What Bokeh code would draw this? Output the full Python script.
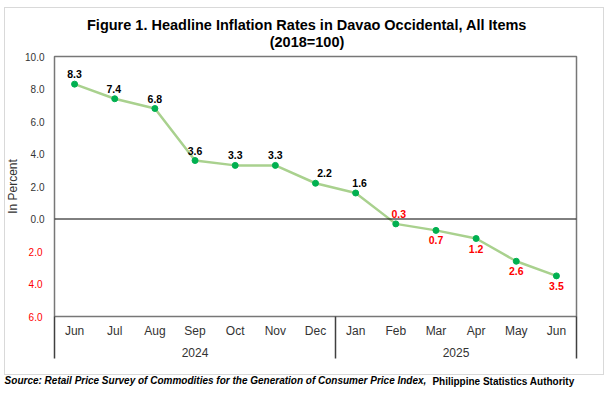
from bokeh.plotting import figure
from bokeh.models import (Range1d, FixedTicker, LinearAxis, Span,
                          ColumnDataSource, CustomJSTickFormatter, InlineStyleSheet)
from bokeh.core.properties import value
from bokeh.embed import file_html
from bokeh.resources import INLINE

# ---- data ----
months = ["Jun", "Jul", "Aug", "Sep", "Oct", "Nov", "Dec",
          "Jan", "Feb", "Mar", "Apr", "May", "Jun"]
years = ["2024", "2025"]
year_counts = [7, 6]
inflation = [8.3, 7.4, 6.8, 3.6, 3.3, 3.3, 2.2, 1.6, -0.3, -0.7, -1.2, -2.6, -3.5]
y_ticks = [-6, -4, -2, 0, 2, 4, 6, 8, 10]
title_main = "Figure 1. Headline Inflation Rates in Davao Occidental, All Items"
title_sub = "(2018=100)"
source_italic = "Source: Retail Price Survey of Commodities for the Generation of Consumer Price Index,"
source_plain = "Philippine Statistics Authority"

# ---- style ----
FONT = "Liberation Sans"
label_pos = ["above"] * 9 + ["below"] * 4
label_dx = [0, -1, 0, 0, 0, 0, 9, 4, 3, 0, 0, 0, 0]
LINE_C = "#a9d18e"
MARK_C = "#00b050"
TXT_C = "#333333"

W, H = 608, 392
FL, FR, FT, FB = 54, 576, 56, 316
Y0, Y1 = -6, 10
N = len(months)


def px_to_x(px):
    return (px - FL) / ((FR - FL) / N)


p = figure(width=W, height=H, output_backend="svg", toolbar_location=None,
           x_range=Range1d(0, N), y_range=Range1d(Y0, Y1),
           min_border_left=FL, min_border_right=W - FR,
           min_border_top=FT, min_border_bottom=H - FB,
           x_axis_type=None, y_axis_type=None)
p.xgrid.visible = False
p.ygrid.visible = False
p.title.visible = False
p.outline_line_color = "#777777"
p.outline_line_width = 1.5
p.background_fill_color = "white"
p.border_fill_color = "white"
p.stylesheets = [InlineStyleSheet(css=
    ":host::after{content:'';position:absolute;left:4px;top:7px;width:598px;height:366px;"
    "border:1px solid #d9d9d9;pointer-events:none;z-index:5;}")]


def plain_axis(ax):
    ax.axis_line_color = None
    ax.major_tick_out = 0
    ax.major_tick_in = 0
    ax.minor_tick_out = 0
    ax.minor_tick_in = 0
    ax.major_label_text_font = FONT
    return ax


# title lines (sub line next to the frame, main line above it)
for txt, so in [(title_sub, 7), (title_main, -2)]:
    cx = px_to_x(306.5)
    ta = plain_axis(LinearAxis(ticker=FixedTicker(ticks=[cx]),
                    major_label_overrides={cx: txt}))
    ta.major_label_standoff = so
    ta.major_label_text_font_size = "14.5px"
    ta.major_label_text_font_style = "bold"
    ta.major_label_text_color = "black"
    p.add_layout(ta, "above")

# y axis: negative labels (red, shown without sign) -- closest to frame
yneg = plain_axis(LinearAxis(ticker=FixedTicker(ticks=[t for t in y_ticks if t < 0]),
                  formatter=CustomJSTickFormatter(code="return Math.abs(tick).toFixed(1)")))
yneg.major_label_standoff = 12
yneg.major_label_text_font_size = "10px"
yneg.major_label_text_color = "#ff0000"
p.add_layout(yneg, "left")

# y axis: zero and positive labels (black), pulled back to the same column
yax = plain_axis(LinearAxis(ticker=FixedTicker(ticks=y_ticks),
                 formatter=CustomJSTickFormatter(code="return tick >= 0 ? tick.toFixed(1) : ''")))
yax.major_label_standoff = -19
yax.major_label_text_font_size = "10px"
yax.major_label_text_color = TXT_C
yax.axis_label = "In Percent"
yax.axis_label_text_font = FONT
yax.axis_label_text_font_size = "12px"
yax.axis_label_text_font_style = "normal"
yax.axis_label_text_color = TXT_C
yax.axis_label_standoff = 2
p.add_layout(yax, "left")

# month axis, with group separators drawn as long minor ticks
bounds = [0]
for c in year_counts:
    bounds.append(bounds[-1] + c)
centers = [i + 0.5 for i in range(N)]
xax = plain_axis(LinearAxis(ticker=FixedTicker(ticks=centers, minor_ticks=bounds),
                 major_label_overrides={c: m for c, m in zip(centers, months)}))
xax.minor_tick_out = 42
xax.minor_tick_line_color = "#404040"
xax.minor_tick_line_width = 1.5
xax.major_label_standoff = -35
xax.major_label_text_font_size = "12px"
xax.major_label_text_color = TXT_C
p.add_layout(xax, "below")

# year axis
ycent = [(bounds[i] + bounds[i + 1]) / 2 for i in range(len(years))]
yrax = plain_axis(LinearAxis(ticker=FixedTicker(ticks=ycent),
                  major_label_overrides={c: y for c, y in zip(ycent, years)}))
yrax.major_label_standoff = 7
yrax.major_label_text_font_size = "12px"
yrax.major_label_text_color = TXT_C
p.add_layout(yrax, "below")

# source note (two styles on one line)
for txt, style, cx, so in [(source_italic, "bold italic", px_to_x(215), 15),
                           (source_plain, "bold", px_to_x(503), -13)]:
    sa = plain_axis(LinearAxis(ticker=FixedTicker(ticks=[cx]),
                    major_label_overrides={cx: txt}))
    sa.major_label_standoff = so
    sa.major_label_text_font_size = "10px"
    sa.major_label_text_font_style = style
    sa.major_label_text_color = "black"
    p.add_layout(sa, "below")

# zero line
p.add_layout(Span(location=0, dimension="width", line_color="black", line_width=1))

# series
xs = centers
p.line(xs, inflation, line_color=LINE_C, line_width=2.5)
p.scatter(xs, inflation, size=6, fill_color=MARK_C, line_color=MARK_C)

# data labels
for pos in ["above", "below"]:
    idx = [i for i, lp in enumerate(label_pos) if lp == pos]
    src = ColumnDataSource(dict(
        x=[xs[i] for i in idx],
        y=[inflation[i] for i in idx],
        t=[f"{abs(inflation[i]):.1f}" for i in idx],
        c=["#000000" if inflation[i] >= 0 else "#ff0000" for i in idx],
        dx=[label_dx[i] for i in idx],
    ))
    p.text(x="x", y="y", text="t", source=src, text_color="c",
           text_font=value(FONT), text_font_size="10.5px", text_font_style="bold",
           text_align="center",
           text_baseline="bottom" if pos == "above" else "top",
           x_offset="dx", y_offset=-6 if pos == "above" else 6)

open("out.html", "w").write(file_html(p, INLINE))
